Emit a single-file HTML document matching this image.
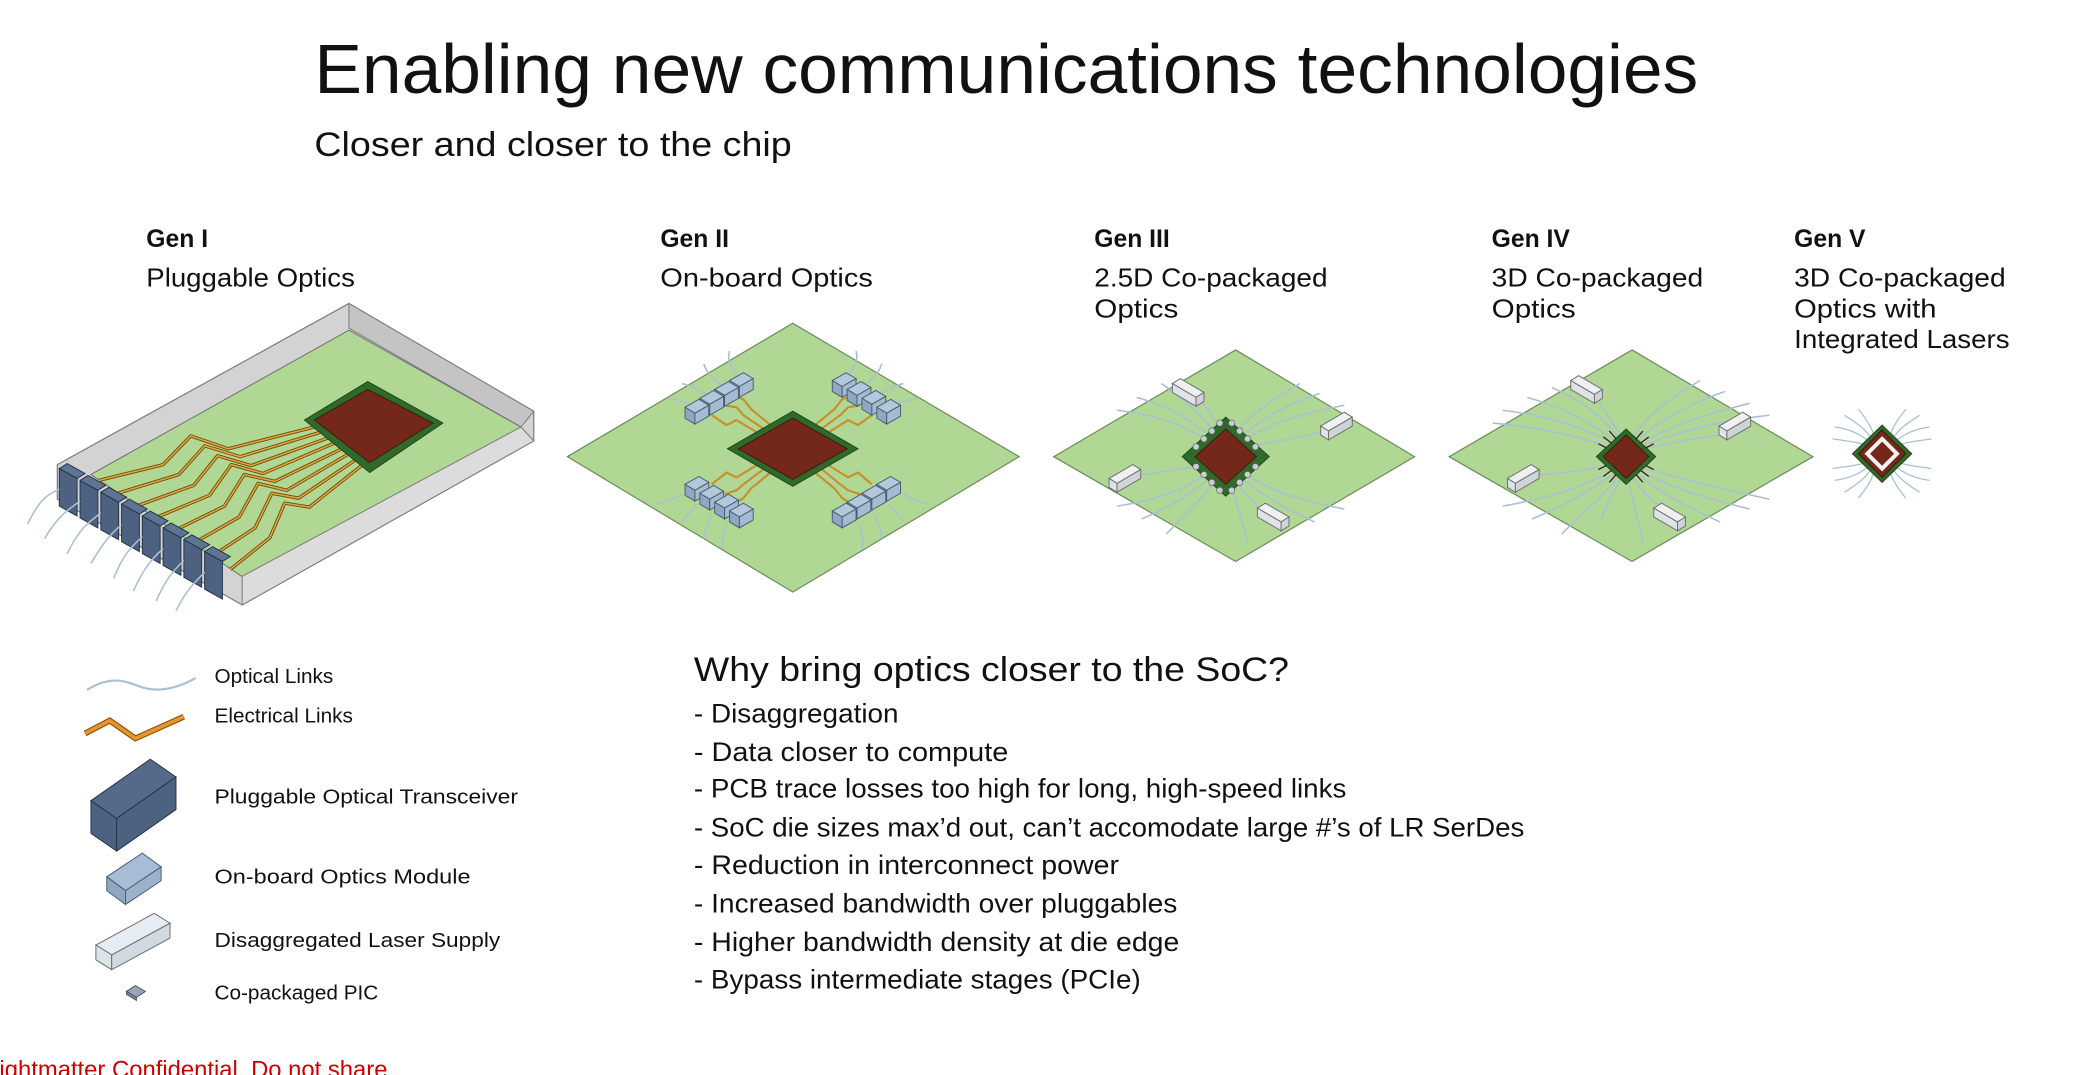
<!DOCTYPE html>
<html><head><meta charset="utf-8"><style>
html,body{margin:0;padding:0;background:#fff;width:2087px;height:1075px;overflow:hidden}
svg{display:block}
text{font-family:"Liberation Sans",sans-serif;fill:#111}
.fb{fill:none;stroke:#a9c0d3;stroke-width:1.6}
.tr{fill:none;stroke:#6b4a10;stroke-width:3.4;stroke-linejoin:round}
.tr2{fill:none;stroke:#e2a63a;stroke-width:1.6;stroke-linejoin:round}
</style></head><body>
<svg width="2087" height="1075" viewBox="0 0 2087 1075" xmlns="http://www.w3.org/2000/svg">
<defs>
<g id="mod">
<polygon points="0,0 14,-8 24,-2 10,6" fill="#b3c8dc" stroke="#4c5f72" stroke-width="1"/>
<polygon points="0,0 10,6 10,17 0,11" fill="#8fa8c2" stroke="#4c5f72" stroke-width="1"/>
<polygon points="10,6 24,-2 24,9 10,17" fill="#a3bbd3" stroke="#4c5f72" stroke-width="1"/>
</g>
<g id="plug">
<polygon points="0,0 18,10 18,-28 0,-38" fill="#4c6280" stroke="#26344a" stroke-width="1"/>
<polygon points="0,-38 18,-28 26,-33 8,-43" fill="#5d7493" stroke="#26344a" stroke-width="1"/>
</g>
</defs>
<g transform="scale(0.9885)">
<!-- Title -->
<text x="318" y="94" font-size="70" textLength="1400" lengthAdjust="spacingAndGlyphs">Enabling new communications technologies</text>
<text x="318" y="158" font-size="35" textLength="483" lengthAdjust="spacingAndGlyphs">Closer and closer to the chip</text>

<!-- Gen labels -->
<g font-size="26">
<text x="148" y="250" font-weight="bold" font-size="25">Gen I</text>
<text x="148" y="290" textLength="211" lengthAdjust="spacingAndGlyphs">Pluggable Optics</text>
<text x="668" y="250" font-weight="bold" font-size="25">Gen II</text>
<text x="668" y="290" textLength="215" lengthAdjust="spacingAndGlyphs">On-board Optics</text>
<text x="1107" y="250" font-weight="bold" font-size="25">Gen III</text>
<text x="1107" y="290" textLength="236" lengthAdjust="spacingAndGlyphs">2.5D Co-packaged</text>
<text x="1107" y="321" textLength="85" lengthAdjust="spacingAndGlyphs">Optics</text>
<text x="1509" y="250" font-weight="bold" font-size="25">Gen IV</text>
<text x="1509" y="290" textLength="214" lengthAdjust="spacingAndGlyphs">3D Co-packaged</text>
<text x="1509" y="321" textLength="85" lengthAdjust="spacingAndGlyphs">Optics</text>
<text x="1815" y="250" font-weight="bold" font-size="25">Gen V</text>
<text x="1815" y="290" textLength="214" lengthAdjust="spacingAndGlyphs">3D Co-packaged</text>
<text x="1815" y="321" textLength="144" lengthAdjust="spacingAndGlyphs">Optics with</text>
<text x="1815" y="352" textLength="218" lengthAdjust="spacingAndGlyphs">Integrated Lasers</text>
</g>

<!-- Gen I -->
<polygon points="58,470 353,307 540,416 540,446 245,612 58,505" fill="#d3d3d3" stroke="#7a7a7a" stroke-width="1.2"/>
<polygon points="353,307 353,332 527,432 540,416" fill="#c4c4c4" stroke="#7a7a7a" stroke-width="1"/>
<polygon points="92,480 353,334 527,432 252,588" fill="#b0d894" stroke="#6f6f6f" stroke-width="1"/>
<polygon points="245,583 527,432 540,446 245,612" fill="#dcdcdc" stroke="#7a7a7a" stroke-width="1"/>
<g>
<polyline class="tr" points="318,432 231,454 193,441 165,470 100,486"/><polyline class="tr2" points="318,432 231,454 193,441 165,470 100,486"/>
<polyline class="tr" points="325,437 243,462 207,451 181,480 119,499"/><polyline class="tr2" points="325,437 243,462 207,451 181,480 119,499"/>
<polyline class="tr" points="332,443 254,471 220,461 196,491 138,512"/><polyline class="tr2" points="332,443 254,471 220,461 196,491 138,512"/>
<polyline class="tr" points="339,448 266,479 234,470 212,501 157,524"/><polyline class="tr2" points="339,448 266,479 234,470 212,501 157,524"/>
<polyline class="tr" points="346,454 278,487 247,480 227,512 176,537"/><polyline class="tr2" points="346,454 278,487 247,480 227,512 176,537"/>
<polyline class="tr" points="353,459 290,496 261,489 242,523 195,550"/><polyline class="tr2" points="353,459 290,496 261,489 242,523 195,550"/>
<polyline class="tr" points="360,465 302,504 275,499 258,534 214,563"/><polyline class="tr2" points="360,465 302,504 275,499 258,534 214,563"/>
<polyline class="tr" points="367,470 313,513 288,509 273,544 233,576"/><polyline class="tr2" points="367,470 313,513 288,509 273,544 233,576"/>
</g>
<polygon points="372,386 448,428 374,478 308,425" fill="#2f6a2a" stroke="#1e4a1c"/>
<polygon points="372,394 438,428 374,468 318,425" fill="#74281a" stroke="#3e1a10"/>
<g>
<use href="#plug" x="60" y="512"/><use href="#plug" x="81" y="524"/><use href="#plug" x="102" y="536"/><use href="#plug" x="123" y="548"/>
<use href="#plug" x="144" y="560"/><use href="#plug" x="165" y="572"/><use href="#plug" x="186" y="584"/><use href="#plug" x="207" y="596"/>
</g>
<g class="fb">
<path d="M60,495 C48,500 40,505 28,530"/><path d="M81,507 C70,515 60,520 45,545"/><path d="M102,519 C90,528 80,535 68,560"/>
<path d="M123,531 C112,540 105,548 92,570"/><path d="M144,543 C134,552 125,560 115,585"/><path d="M165,555 C154,565 145,575 135,598"/>
<path d="M186,567 C175,578 168,585 158,608"/><path d="M207,579 C196,590 188,598 178,618"/>
</g>

<!-- Gen II -->
<polygon points="802,327 1031,462 802,599 574,462" fill="#b0d894" stroke="#6a8a5a" stroke-width="1.2"/>
<g class="tr2" style="stroke-width:2.2;stroke:#c8902a">
<polyline points="770,440 745,425 735,430 720,420"/><polyline points="776,436 752,420 745,412 733,410"/><polyline points="782,432 760,414 752,404 742,400"/>
<polyline points="834,440 858,425 868,430 882,420"/><polyline points="828,436 850,420 858,412 870,410"/><polyline points="822,432 844,414 852,404 862,400"/>
<polyline points="770,468 745,483 735,478 720,490"/><polyline points="776,472 752,490 745,496 733,500"/><polyline points="782,476 760,494 752,504 742,510"/>
<polyline points="834,468 858,483 868,478 882,490"/><polyline points="828,472 850,490 858,496 870,500"/><polyline points="822,476 844,494 852,504 862,510"/>
</g>
<g class="fb">
<path d="M748,382 C740,372 735,365 738,355"/><path d="M733,391 C722,385 715,378 712,368"/><path d="M718,400 C708,396 700,390 690,388"/><path d="M703,409 C694,408 686,404 676,403"/>
<path d="M856,382 C864,372 869,365 866,355"/><path d="M871,391 C882,385 889,378 892,368"/><path d="M886,400 C896,396 904,390 914,388"/><path d="M901,409 C910,408 918,404 928,403"/>
<path d="M690,500 C680,505 674,508 665,510"/><path d="M705,510 C698,518 694,522 690,528"/><path d="M720,520 C716,528 713,535 712,545"/><path d="M735,530 C732,538 730,546 732,556"/>
<path d="M914,500 C924,505 930,508 939,510"/><path d="M899,510 C906,518 910,522 914,528"/><path d="M884,520 C888,528 891,535 892,545"/><path d="M869,530 C872,538 874,546 872,556"/>
</g>
<g>
<use href="#mod" x="738" y="385"/><use href="#mod" x="723" y="394"/><use href="#mod" x="708" y="403"/><use href="#mod" x="693" y="412"/>
<use href="#mod" x="842" y="385"/><use href="#mod" x="857" y="394"/><use href="#mod" x="872" y="403"/><use href="#mod" x="887" y="412"/>
<use href="#mod" x="693" y="490"/><use href="#mod" x="708" y="499"/><use href="#mod" x="723" y="508"/><use href="#mod" x="738" y="517"/>
<use href="#mod" x="887" y="490"/><use href="#mod" x="872" y="499"/><use href="#mod" x="857" y="508"/><use href="#mod" x="842" y="517"/>
</g>
<polygon points="802,416 868,454 802,492 736,454" fill="#2f6a2a" stroke="#1e4a1c"/>
<polygon points="802,423 857,454 802,485 747,454" fill="#74281a" stroke="#3e1a10"/>

<!-- Gen III -->
<polygon points="1250,354 1431,462 1250,568 1066,462" fill="#b0d894" stroke="#6a8a5a" stroke-width="1.2"/>
<g class="fb">
<path d="M1225,448 C1200,430 1170,420 1130,415"/><path d="M1228,444 C1205,425 1185,412 1150,402"/><path d="M1232,440 C1215,420 1200,405 1175,388"/><path d="M1236,436 C1225,420 1215,402 1205,395"/>
<path d="M1255,448 C1280,430 1310,420 1360,410"/><path d="M1252,444 C1275,425 1295,412 1335,398"/><path d="M1248,440 C1265,420 1285,405 1315,388"/><path d="M1262,452 C1300,445 1330,440 1355,432"/>
<path d="M1225,476 C1200,495 1175,505 1130,512"/><path d="M1228,480 C1205,500 1185,512 1155,525"/><path d="M1232,484 C1215,505 1200,520 1180,540"/><path d="M1218,470 C1190,475 1165,480 1140,482"/>
<path d="M1255,476 C1280,495 1310,505 1360,515"/><path d="M1252,480 C1275,500 1295,512 1330,528"/><path d="M1248,484 C1262,505 1275,515 1290,525"/><path d="M1244,488 C1250,505 1260,540 1262,548"/>
</g>
<g stroke="#6f6f6f" stroke-width="1">
<polygon points="1186,388 1210,402 1218,397 1194,383" fill="#eef0f2"/><polygon points="1186,388 1210,402 1210,411 1186,397" fill="#dfe3e7"/><polygon points="1210,402 1218,397 1218,406 1210,411" fill="#cfd4d9"/>
<polygon points="1344,436 1368,422 1360,417 1336,431" fill="#eef0f2"/><polygon points="1336,431 1344,436 1344,445 1336,440" fill="#dfe3e7"/><polygon points="1344,436 1368,422 1368,431 1344,445" fill="#cfd4d9"/>
<polygon points="1122,484 1146,470 1154,475 1130,489" fill="#eef0f2"/><polygon points="1122,484 1130,489 1130,498 1122,493" fill="#dfe3e7"/><polygon points="1130,489 1154,475 1154,484 1130,498" fill="#cfd4d9"/>
<polygon points="1272,514 1296,528 1304,523 1280,509" fill="#eef0f2"/><polygon points="1272,514 1296,528 1296,537 1272,523" fill="#dfe3e7"/><polygon points="1296,528 1304,523 1304,532 1296,537" fill="#cfd4d9"/>
</g>
<polygon points="1240,422 1284,462 1240,502 1196,462" fill="#2f6a2a" stroke="#1e4a1c"/>
<polygon points="1240,434 1271,462 1240,490 1209,462" fill="#74281a" stroke="#3e1a10"/>
<g fill="#c6cdd4" stroke="#555" stroke-width="0.6">
<circle cx="1226" cy="436" r="3.2"/><circle cx="1218" cy="444" r="3.2"/><circle cx="1210" cy="452" r="3.2"/><circle cx="1234" cy="428" r="3.2"/>
<circle cx="1254" cy="436" r="3.2"/><circle cx="1262" cy="444" r="3.2"/><circle cx="1270" cy="452" r="3.2"/><circle cx="1246" cy="428" r="3.2"/>
<circle cx="1226" cy="488" r="3.2"/><circle cx="1218" cy="480" r="3.2"/><circle cx="1210" cy="472" r="3.2"/><circle cx="1234" cy="496" r="3.2"/>
<circle cx="1254" cy="488" r="3.2"/><circle cx="1262" cy="480" r="3.2"/><circle cx="1270" cy="472" r="3.2"/><circle cx="1246" cy="496" r="3.2"/>
</g>

<!-- Gen IV -->
<polygon points="1651,354 1834,462 1651,568 1466,462" fill="#b0d894" stroke="#6a8a5a" stroke-width="1.2"/>
<g class="fb">
<path d="M1638,452 C1600,430 1560,420 1520,415"/><path d="M1640,450 C1605,425 1580,412 1545,402"/><path d="M1642,448 C1620,420 1600,405 1570,392"/><path d="M1636,455 C1595,440 1555,432 1510,428"/><path d="M1644,446 C1630,425 1620,410 1612,400"/>
<path d="M1652,452 C1690,430 1730,418 1770,408"/><path d="M1650,450 C1680,425 1705,410 1745,396"/><path d="M1648,448 C1665,420 1690,402 1720,385"/><path d="M1656,456 C1700,445 1740,440 1770,436"/><path d="M1654,454 C1700,435 1745,425 1790,420"/>
<path d="M1638,472 C1600,495 1560,505 1520,512"/><path d="M1640,474 C1605,500 1580,512 1550,525"/><path d="M1642,476 C1620,505 1600,520 1580,540"/><path d="M1636,469 C1595,478 1565,480 1540,482"/><path d="M1644,478 C1630,500 1625,510 1620,525"/>
<path d="M1652,472 C1690,495 1730,505 1770,515"/><path d="M1650,474 C1680,500 1705,512 1740,528"/><path d="M1648,476 C1660,500 1675,510 1690,515"/><path d="M1654,470 C1700,485 1745,495 1790,505"/><path d="M1646,478 C1650,505 1660,535 1662,548"/>
</g>
<g stroke="#6f6f6f" stroke-width="1">
<polygon points="1589,385 1613,399 1621,394 1597,380" fill="#eef0f2"/><polygon points="1589,385 1613,399 1613,408 1589,394" fill="#dfe3e7"/><polygon points="1613,399 1621,394 1621,403 1613,408" fill="#cfd4d9"/>
<polygon points="1747,436 1771,422 1763,417 1739,431" fill="#eef0f2"/><polygon points="1739,431 1747,436 1747,445 1739,440" fill="#dfe3e7"/><polygon points="1747,436 1771,422 1771,431 1747,445" fill="#cfd4d9"/>
<polygon points="1525,484 1549,470 1557,475 1533,489" fill="#eef0f2"/><polygon points="1525,484 1533,489 1533,498 1525,493" fill="#dfe3e7"/><polygon points="1533,489 1557,475 1557,484 1533,498" fill="#cfd4d9"/>
<polygon points="1673,514 1697,528 1705,523 1681,509" fill="#eef0f2"/><polygon points="1673,514 1697,528 1697,537 1673,523" fill="#dfe3e7"/><polygon points="1697,528 1705,523 1705,532 1697,537" fill="#cfd4d9"/>
</g>
<polygon points="1645,434 1675,462 1645,490 1615,462" fill="#2f6a2a" stroke="#1e4a1c"/>
<polygon points="1645,440 1668,462 1645,484 1622,462" fill="#74281a" stroke="#3e1a10"/>
<g stroke="#3a1a12" stroke-width="1.3">
<line x1="1630" y1="448" x2="1622" y2="442"/><line x1="1635" y1="444" x2="1628" y2="436"/><line x1="1625" y1="453" x2="1617" y2="449"/>
<line x1="1660" y1="448" x2="1668" y2="442"/><line x1="1655" y1="444" x2="1662" y2="436"/><line x1="1665" y1="453" x2="1673" y2="449"/>
<line x1="1630" y1="476" x2="1622" y2="482"/><line x1="1635" y1="480" x2="1628" y2="488"/><line x1="1625" y1="471" x2="1617" y2="475"/>
<line x1="1660" y1="476" x2="1668" y2="482"/><line x1="1655" y1="480" x2="1662" y2="488"/><line x1="1665" y1="471" x2="1673" y2="475"/>
</g>

<!-- Gen V -->
<g class="fb" style="stroke-width:1.3">
<path d="M1890,446 C1880,438 1870,434 1856,432"/><path d="M1893,443 C1885,432 1878,428 1866,420"/><path d="M1896,440 C1892,430 1888,424 1880,414"/><path d="M1887,450 C1875,446 1866,446 1854,444"/>
<path d="M1918,446 C1928,438 1938,434 1952,432"/><path d="M1915,443 C1923,432 1930,428 1942,420"/><path d="M1912,440 C1916,430 1920,424 1928,414"/><path d="M1921,450 C1933,446 1942,446 1954,444"/>
<path d="M1890,472 C1880,480 1870,484 1856,486"/><path d="M1893,475 C1885,486 1878,490 1866,498"/><path d="M1896,478 C1892,488 1888,494 1880,504"/><path d="M1887,468 C1875,472 1866,472 1854,474"/>
<path d="M1918,472 C1928,480 1938,484 1952,486"/><path d="M1915,475 C1923,486 1930,490 1942,498"/><path d="M1912,478 C1916,488 1920,494 1928,504"/><path d="M1921,468 C1933,472 1942,472 1954,474"/>
</g>
<polygon points="1904,430 1934,459 1904,488 1874,459" fill="#2f6a2a" stroke="#1e4a1c"/>
<polygon points="1904,435 1928,459 1904,483 1880,459" fill="#74281a" stroke="#3e1a10"/>
<polygon points="1904,444 1919,459 1904,474 1889,459" fill="none" stroke="#f4f4f4" stroke-width="4"/>

<!-- Legend -->
<path d="M88,698 C110,684 125,688 140,694 C160,702 180,696 198,686" fill="none" stroke="#a9c0d3" stroke-width="2.2"/>
<polyline points="86,742 111,729 137,747 186,725" fill="none" stroke="#8a5410" stroke-width="6" stroke-linejoin="miter"/>
<polyline points="86,742 111,729 137,747 186,725" fill="none" stroke="#e8952e" stroke-width="3.6"/>
<polygon points="92,810 152,768 178,786 118,828" fill="#55698a" stroke="#26344a"/>
<polygon points="92,810 118,828 118,861 92,843" fill="#4c6280" stroke="#26344a"/>
<polygon points="118,828 178,786 178,819 118,861" fill="#4c6280" stroke="#26344a"/>
<polygon points="108,887 144,863 163,877 127,901" fill="#a6bdd5" stroke="#4c5f72"/>
<polygon points="108,887 127,901 127,915 108,901" fill="#8fa8c2" stroke="#4c5f72"/>
<polygon points="127,901 163,877 163,891 127,915" fill="#9ab2cb" stroke="#4c5f72"/>
<polygon points="97,956 156,924 172,934 113,966" fill="#e5ecf3" stroke="#6f6f6f"/>
<polygon points="97,956 113,966 113,981 97,971" fill="#dbe3eb" stroke="#6f6f6f"/>
<polygon points="113,966 172,934 172,949 113,981" fill="#d1dae3" stroke="#6f6f6f"/>
<polygon points="128,1003 137,997 147,1003 138,1009" fill="#99a6b8" stroke="#4c5664"/>
<polygon points="128,1003 138,1009 138,1012 128,1006" fill="#7d8a9c" stroke="#4c5664"/>
<g font-size="21">
<text x="217" y="691">Optical Links</text>
<text x="217" y="731">Electrical Links</text>
<text x="217" y="813" textLength="307" lengthAdjust="spacingAndGlyphs">Pluggable Optical Transceiver</text>
<text x="217" y="894" textLength="259" lengthAdjust="spacingAndGlyphs">On-board Optics Module</text>
<text x="217" y="958" textLength="289" lengthAdjust="spacingAndGlyphs">Disaggregated Laser Supply</text>
<text x="217" y="1011">Co-packaged PIC</text>
</g>

<!-- Why section -->
<text x="702" y="689" font-size="35" textLength="602" lengthAdjust="spacingAndGlyphs">Why bring optics closer to the SoC?</text>
<g font-size="27">
<text x="702" y="731" textLength="207" lengthAdjust="spacingAndGlyphs">- Disaggregation</text>
<text x="702" y="770" textLength="318" lengthAdjust="spacingAndGlyphs">- Data closer to compute</text>
<text x="702" y="807" textLength="660" lengthAdjust="spacingAndGlyphs">- PCB trace losses too high for long, high-speed links</text>
<text x="702" y="846" textLength="840" lengthAdjust="spacingAndGlyphs">- SoC die sizes max’d out, can’t accomodate large #’s of LR SerDes</text>
<text x="702" y="884" textLength="430" lengthAdjust="spacingAndGlyphs">- Reduction in interconnect power</text>
<text x="702" y="923" textLength="489" lengthAdjust="spacingAndGlyphs">- Increased bandwidth over pluggables</text>
<text x="702" y="962" textLength="491" lengthAdjust="spacingAndGlyphs">- Higher bandwidth density at die edge</text>
<text x="702" y="1000" textLength="452" lengthAdjust="spacingAndGlyphs">- Bypass intermediate stages (PCIe)</text>
</g>

<text x="-14" y="1090" font-size="24" textLength="406" lengthAdjust="spacingAndGlyphs" style="fill:#d00000">Lightmatter Confidential. Do not share</text>
</g>
</svg>
</body></html>
